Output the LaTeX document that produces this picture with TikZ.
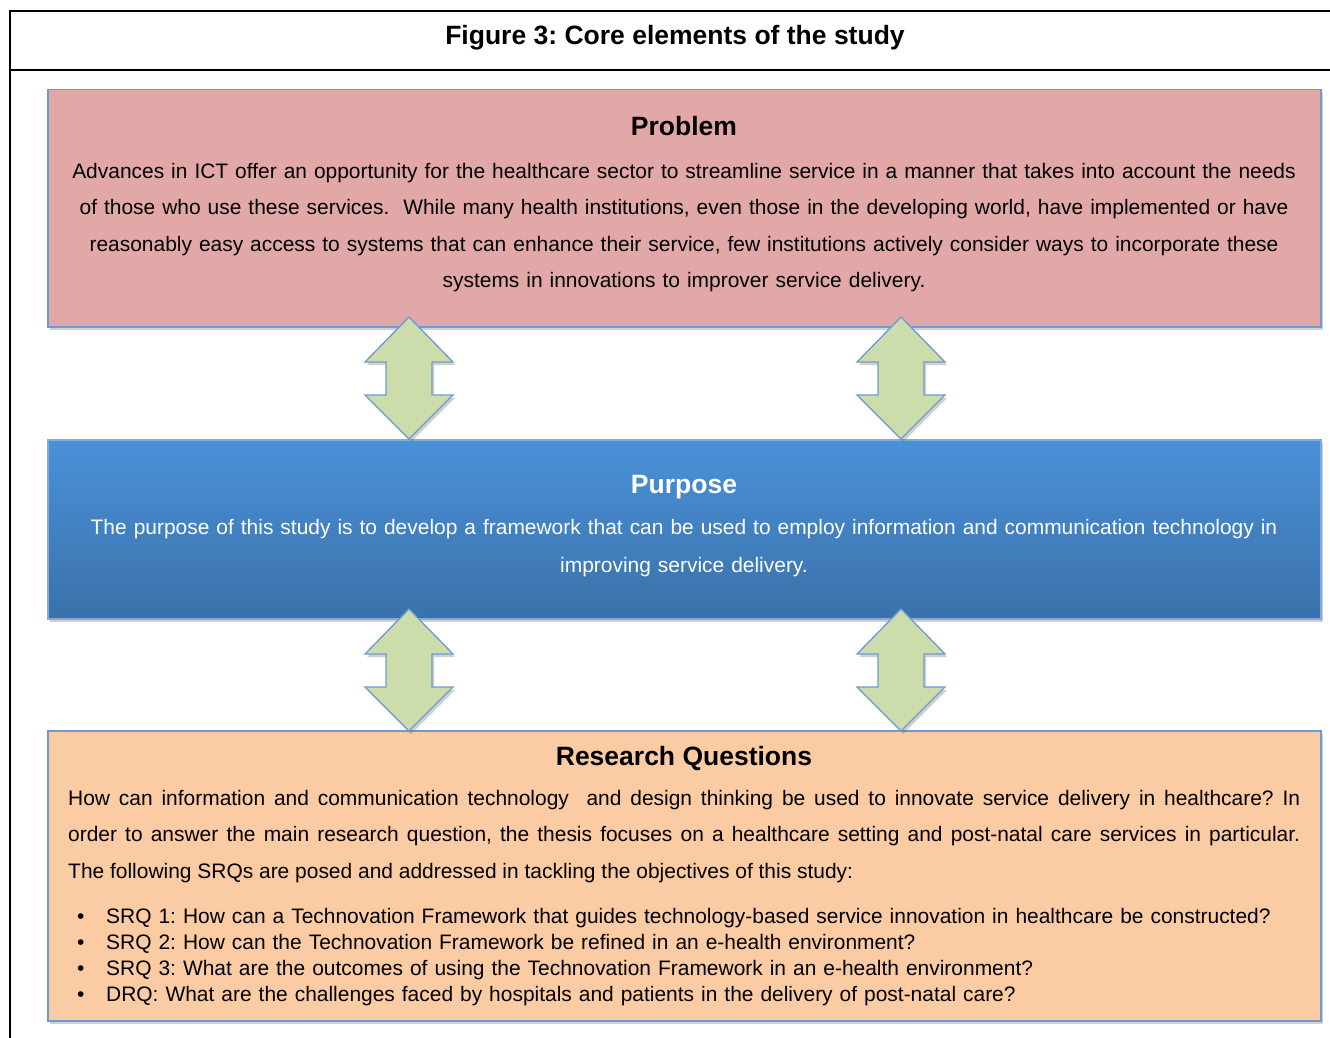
\documentclass[tikz,border=0pt]{standalone}
\usepackage{fontspec}
\setmainfont{Liberation Sans}
\usepackage{tikz}
\usetikzlibrary{
  shadows,
  calc
}
\frenchspacing
\definecolor{frameblue}{HTML}{6C9BD3}
\definecolor{problemred}{HTML}{E2A8A7}
\definecolor{purposetop}{HTML}{4A91D9}
\definecolor{purposebottom}{HTML}{3A71A9}
\definecolor{questionorange}{HTML}{FBCBA3}
\definecolor{linkgreen}{HTML}{CDDCAB}
\tikzset{
  boxshadow/.style={drop shadow={shadow xshift=2pt,shadow yshift=-3pt,opacity=.3,fill=black!60}},
  corebox/.style={draw=frameblue,line width=1.5pt,anchor=north west,inner sep=0pt,boxshadow},
  headtext/.style={font=\fontsize{26.5}{30}\selectfont\bfseries,anchor=base,inner sep=0pt},
  bodytext/.style={font=\fontsize{20.95}{36.6}\selectfont,anchor=base,inner sep=0pt},
  updown/.pic={
    \draw[draw=frameblue,line width=1.3pt,fill=linkgreen,line join=miter,boxshadow]
      (0,-61) -- (44,-16) -- (23,-16) -- (23,17) -- (44,17) -- (0,61)
      -- (-44,17) -- (-23,17) -- (-23,-16) -- (-44,-16) -- cycle;
  },
}

\begin{document}
\begin{tikzpicture}[
  x=1pt,y=-1pt,
  every node/.style={text=black},
]
\useasboundingbox[fill=white] (0,0) rectangle (1330,1038);

\draw[line width=1.5pt] (1330,11) -- (10,11) -- (10,1040);
\draw[line width=1.5pt] (10,70) -- (1330,70);
\node[headtext] (figtitle) at (675,45) {Figure 3: Core elements of the study};

\node[corebox,fill=problemred,minimum width=1273pt,minimum height=237pt] (problem) at (47,89) {};
\node[corebox,top color=purposetop,bottom color=purposebottom,draw=frameblue!85!white,
  minimum width=1273pt,minimum height=179pt] (purpose) at (47,439) {};
\node[corebox,fill=questionorange,minimum width=1273pt,minimum height=290pt] (questions) at (47,730) {};

\pic at (409,378) {updown};
\pic at (901,378) {updown};
\pic at (409,670) {updown};
\pic at (901,670) {updown};

\node[headtext] (problem-head) at (684,135.5) {Problem};
\node[bodytext,text width=1260pt,align=center] (problem-text) at (684,178) {%
  Advances in ICT offer an opportunity for the healthcare sector to streamline service in a manner that takes into account the needs\\
  of those who use these services.~ While many health institutions, even those in the developing world, have implemented or have\\
  reasonably easy access to systems that can enhance their service, few institutions actively consider ways to incorporate these\\
  systems in innovations to improver service delivery.};

\node[headtext,text=white] (purpose-head) at (684,493) {Purpose};
\node[bodytext,text=white,text width=1260pt,align=center,font=\fontsize{20.95}{38}\selectfont] (purpose-text) at (684,534) {%
  The purpose of this study is to develop a framework that can be used to employ information and communication technology in\\
  improving service delivery.};

\node[headtext] (questions-head) at (684,765) {Research Questions};
\node[bodytext,anchor=base west,text width=1232pt,align=justify] (questions-text) at (68,805) {%
  How can information and communication technology~ and design thinking be used to innovate service delivery in healthcare? In\linebreak
  order to answer the main research question, the thesis focuses on a healthcare setting and post-natal care services in particular.\linebreak
  The following SRQs are posed and addressed in tackling the objectives of this study:};
\node[bodytext,anchor=base west,text width=1240pt,align=left,font=\fontsize{20.95}{26}\selectfont] (questions-list) at (77,923) {%
  \makebox[29pt][l]{\textbullet}SRQ 1: How can a Technovation Framework that guides technology-based service innovation in healthcare be constructed?\\
  \makebox[29pt][l]{\textbullet}SRQ 2: How can the Technovation Framework be refined in an e-health environment?\\
  \makebox[29pt][l]{\textbullet}SRQ 3: What are the outcomes of using the Technovation Framework in an e-health environment?\\
  \makebox[29pt][l]{\textbullet}DRQ: What are the challenges faced by hospitals and patients in the delivery of post-natal care?};
\end{tikzpicture}
\end{document}
